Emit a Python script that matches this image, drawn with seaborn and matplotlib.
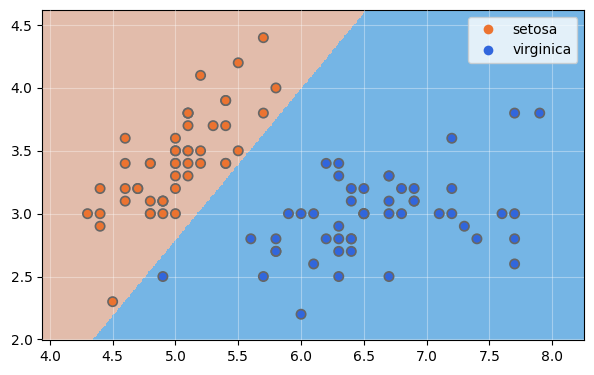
import numpy as np
import pandas as pd
import matplotlib
matplotlib.use("Agg")
import matplotlib.pyplot as plt
import seaborn as sns
from matplotlib.colors import ListedColormap
from matplotlib.lines import Line2D

# iris sepal length / width, setosa and virginica
setosa_len = [5.1, 4.9, 4.7, 4.6, 5.0, 5.4, 4.6, 5.0, 4.4, 4.9, 5.4, 4.8, 4.8, 4.3, 5.8, 5.7, 5.4,
              5.1, 5.7, 5.1, 5.4, 5.1, 4.6, 5.1, 4.8, 5.0, 5.0, 5.2, 5.2, 4.7, 4.8, 5.4, 5.2, 5.5,
              4.9, 5.0, 5.5, 4.9, 4.4, 5.1, 5.0, 4.5, 4.4, 5.0, 5.1, 4.8, 5.1, 4.6, 5.3, 5.0]
setosa_wid = [3.5, 3.0, 3.2, 3.1, 3.6, 3.9, 3.4, 3.4, 2.9, 3.1, 3.7, 3.4, 3.0, 3.0, 4.0, 4.4, 3.9,
              3.5, 3.8, 3.8, 3.4, 3.7, 3.6, 3.3, 3.4, 3.0, 3.4, 3.5, 3.4, 3.2, 3.1, 3.4, 4.1, 4.2,
              3.1, 3.2, 3.5, 3.1, 3.0, 3.4, 3.5, 2.3, 3.2, 3.5, 3.8, 3.0, 3.8, 3.2, 3.7, 3.3]
virginica_len = [6.3, 5.8, 7.1, 6.3, 6.5, 7.6, 4.9, 7.3, 6.7, 7.2, 6.5, 6.4, 6.8, 5.7, 5.8, 6.4, 6.5,
                 7.7, 7.7, 6.0, 6.9, 5.6, 7.7, 6.3, 6.7, 7.2, 6.2, 6.1, 6.4, 7.2, 7.4, 7.9, 6.4, 6.3,
                 6.1, 7.7, 6.3, 6.4, 6.0, 6.9, 6.7, 6.9, 5.8, 6.8, 6.7, 6.7, 6.3, 6.5, 6.2, 5.9]
virginica_wid = [3.3, 2.7, 3.0, 2.9, 3.0, 3.0, 2.5, 2.9, 2.5, 3.6, 3.2, 2.7, 3.0, 2.5, 2.8, 3.2, 3.0,
                 3.8, 2.6, 2.2, 3.2, 2.8, 2.8, 2.7, 3.3, 3.2, 2.8, 3.0, 2.8, 3.0, 2.8, 3.8, 2.8, 2.8,
                 2.6, 3.0, 3.4, 3.1, 3.0, 3.1, 3.1, 3.1, 2.7, 3.2, 3.3, 3.0, 2.5, 3.0, 3.4, 3.0]

# linear decision function read from the boundary: f = w0*x + w1*y + b
coef = [1.0, -0.83]
intercept = -2.685

x_range = (3.94, 8.255)
y_range = (1.995, 4.62)

colors = {"setosa": "#ec7330", "virginica": "#3166dd"}

df = pd.DataFrame({
    "sepal_length": setosa_len + virginica_len,
    "sepal_width": setosa_wid + virginica_wid,
    "species": ["setosa"] * len(setosa_len) + ["virginica"] * len(virginica_len),
})

fig = plt.figure(figsize=(5.94, 3.75), dpi=100)
ax = fig.add_axes([0.0712, 0.0933, 0.9125, 0.88])

xx, yy = np.meshgrid(np.arange(x_range[0], x_range[1] + 0.01, 0.01),
                     np.arange(y_range[0], y_range[1] + 0.01, 0.01))
zz = (coef[0] * xx + coef[1] * yy + intercept > 0).astype(int)
ax.pcolormesh(xx, yy, zz, cmap=ListedColormap(["#e2bcab", "#75b5e5"]), shading="auto")

sns.scatterplot(data=df, x="sepal_length", y="sepal_width", hue="species",
                palette=colors, s=45, edgecolor="#666666", linewidth=1.2,
                ax=ax, zorder=3, legend=False)

ax.set_xlim(*x_range)
ax.set_ylim(*y_range)
ax.set_xlabel("")
ax.set_ylabel("")
ax.grid(True, color="white", alpha=0.35, linewidth=0.8)
ax.set_axisbelow(False)
ax.set_xticks(np.arange(4.0, 8.01, 0.5))
ax.set_yticks(np.arange(2.0, 4.51, 0.5))

handles = [Line2D([], [], marker="o", linestyle="", color=c, markersize=7, markeredgewidth=0)
           for c in colors.values()]
leg = ax.legend(handles, list(colors.keys()), loc="upper right", fontsize=10)
leg.get_frame().set_facecolor("white")
leg.get_frame().set_alpha(0.8)

fig.savefig("out.png", dpi=100)
